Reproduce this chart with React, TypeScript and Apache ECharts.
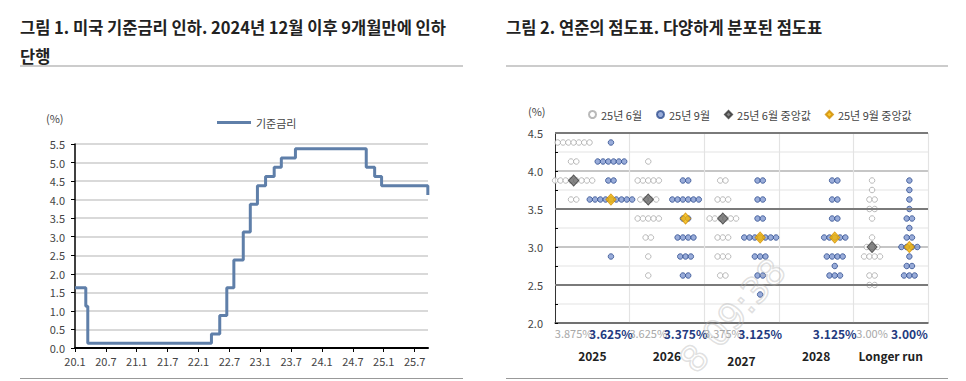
import React, { useEffect, useRef } from 'react';
import * as echarts from 'echarts';

// ---------- Figure 1: US policy rate (midpoint of target range, %) ----------
const fedDates = [
  '2020-01-01', '2020-03-04', '2020-03-16', '2022-03-17', '2022-05-05', '2022-06-16',
  '2022-07-28', '2022-09-22', '2022-11-03', '2022-12-15', '2023-02-02', '2023-03-23',
  '2023-05-04', '2023-07-27', '2024-09-19', '2024-11-08', '2024-12-19', '2025-09-18', '2025-09-19',
];
const fedRates = [
  1.625, 1.125, 0.125, 0.375, 0.875, 1.625,
  2.375, 3.125, 3.875, 4.375, 4.625, 4.875,
  5.125, 5.375, 4.875, 4.625, 4.375, 4.125, 4.125,
];
const monthTicks = [0, 6, 12, 18, 24, 30, 36, 42, 48, 54, 60, 66];

// ---------- Figure 2: FOMC dot plot ----------
const dotYears = ['2025', '2026', '2027', '2028', 'Longer run'];
// [rate, number of participants]
const juneDots: [number, number][][] = [
  [[4.375, 7], [4.125, 2], [3.875, 8], [3.625, 2]],
  [[4.125, 1], [3.875, 5], [3.625, 4], [3.375, 5], [3.125, 2], [2.875, 1], [2.625, 1]],
  [[3.875, 2], [3.625, 3], [3.375, 6], [3.125, 3], [2.875, 3], [2.625, 2]],
  [],
  [[3.875, 1], [3.75, 1], [3.625, 2], [3.5, 2], [3.375, 1], [3.125, 1], [3.0, 3], [2.875, 4], [2.625, 2], [2.5, 2]],
];
const septDots: [number, number][][] = [
  [[4.375, 1], [4.125, 6], [3.875, 2], [3.625, 9], [2.875, 1]],
  [[3.875, 2], [3.625, 6], [3.375, 2], [3.125, 4], [2.875, 3], [2.625, 2]],
  [[3.875, 2], [3.625, 2], [3.375, 2], [3.125, 7], [2.875, 3], [2.625, 2], [2.375, 1]],
  [[3.875, 2], [3.625, 2], [3.375, 2], [3.125, 5], [2.875, 4], [2.75, 1], [2.625, 3]],
  [[3.875, 1], [3.75, 1], [3.625, 1], [3.5, 1], [3.375, 2], [3.25, 1], [3.125, 2], [3.0, 4], [2.875, 1], [2.75, 2], [2.625, 3]],
];
const juneMedians: (number | null)[] = [3.875, 3.625, 3.375, null, 3.0];
const septMedians: (number | null)[] = [3.625, 3.375, 3.125, 3.125, 3.0];
const juneMedianLabels = ['3.875%', '3.625%', '3.375%', '', '3.00%'];
const septMedianLabels = ['3.625%', '3.375%', '3.125%', '3.125%', '3.00%'];
const majorRateLines = [2.5, 3.5, 4.5];

const FONT = "'Noto Sans CJK KR', 'Noto Sans', sans-serif";
const JUNE_POS = 0.25;
const SEPT_POS = 0.75;
const DOT_STEP = 0.071;

function toMonthIndex(s: string): number {
  const [y, m, d] = s.split('-').map(Number);
  const days = new Date(y, m, 0).getDate();
  return (y - 2020) * 12 + (m - 1) + (d - 1) / days;
}

function spreadDots(cols: [number, number][][], pos: number): number[][] {
  const out: number[][] = [];
  cols.forEach((rows, c) => {
    rows.forEach(([v, n]) => {
      for (let i = 0; i < n; i++) out.push([c + pos + (i - (n - 1) / 2) * DOT_STEP, v]);
    });
  });
  return out;
}

function medianPoints(meds: (number | null)[], pos: number): number[][] {
  const out: number[][] = [];
  meds.forEach((v, c) => {
    if (v !== null) out.push([c + pos, v]);
  });
  return out;
}

export default function App() {
  const ref = useRef<HTMLDivElement>(null);

  useEffect(() => {
    if (!ref.current) return;
    const chart = echarts.init(ref.current, undefined, { renderer: 'svg' });
    const fedSeries = fedDates.map((d, i) => [toMonthIndex(d), fedRates[i]]);
    const medianSlots = dotYears.flatMap((y) => [y + '-6', y + '-9']);

    const option: any = {
      animation: false,
      backgroundColor: '#fff',
      textStyle: { fontFamily: FONT },
      legend: [
        {
          data: ['기준금리'],
          left: 212,
          top: 112,
          icon: 'rect',
          itemWidth: 34,
          itemHeight: 3,
          selectedMode: false,
          textStyle: { fontSize: 11, color: '#444', fontFamily: FONT },
        },
        {
          data: ['25년 6월', '25년 9월', '25년 6월 중앙값', '25년 9월 중앙값'],
          left: 583,
          top: 104,
          itemWidth: 7,
          itemHeight: 7,
          itemGap: 14,
          selectedMode: false,
          textStyle: { fontSize: 11, color: '#444', fontFamily: FONT },
        },
      ],
      grid: [
        { left: 75, top: 144, width: 353, height: 204 },
        { left: 555, top: 133, width: 373, height: 190 },
      ],
      xAxis: [
        {
          gridIndex: 0,
          type: 'value',
          min: 0,
          max: 68.6,
          axisLine: { show: true, lineStyle: { color: '#000', width: 2 } },
          axisTick: { show: true, customValues: monthTicks, length: 4, lineStyle: { color: '#000', width: 1 } },
          axisLabel: {
            customValues: monthTicks,
            formatter: (v: number) => `${20 + Math.floor(v / 12)}.${Math.round(v % 12) + 1}`,
            fontSize: 11,
            color: '#444',
            margin: 7,
          },
          splitLine: { show: false },
        },
        {
          gridIndex: 1,
          type: 'value',
          min: 0,
          max: 5,
          interval: 1,
          axisLine: { show: true, onZero: false, lineStyle: { color: '#555', width: 1.5 } },
          axisTick: { show: false },
          axisLabel: { show: false },
          splitLine: { show: true, lineStyle: { color: '#e3e3e3', width: 1.2 } },
        },
        {
          gridIndex: 1,
          type: 'category',
          data: medianSlots,
          position: 'bottom',
          axisLine: { show: false },
          axisTick: { show: false },
          axisLabel: {
            interval: 0,
            margin: 4,
            formatter: (_v: string, i: number) =>
              i % 2 === 0 ? `{j|${juneMedianLabels[i / 2]}}` : `{s|${septMedianLabels[(i - 1) / 2]}}`,
            rich: {
              j: { fontSize: 11, color: '#a8a8a8', fontFamily: FONT },
              s: { fontSize: 12, color: '#233a80', fontWeight: 'bold', fontFamily: FONT },
            },
          },
        },
        {
          gridIndex: 1,
          type: 'category',
          data: dotYears,
          position: 'bottom',
          offset: 21,
          axisLine: { show: false },
          axisTick: { show: false },
          axisLabel: {
            interval: 0,
            margin: 5,
            formatter: (v: string, i: number) => (i === 2 ? `{l|${v}}` : `{n|${v}}`),
            rich: {
              n: { fontSize: 12, color: '#222', fontWeight: 'bold', fontFamily: FONT },
              l: { fontSize: 12, color: '#222', fontWeight: 'bold', fontFamily: FONT, padding: [5, 0, 0, 0] },
            },
          },
        },
      ],
      yAxis: [
        {
          gridIndex: 0,
          type: 'value',
          min: 0,
          max: 5.5,
          interval: 0.5,
          axisLine: { show: true, lineStyle: { color: '#000', width: 1.5 } },
          axisTick: { show: true, length: 4, lineStyle: { color: '#000' } },
          axisLabel: { formatter: (v: number) => v.toFixed(1), fontSize: 11, color: '#444', margin: 10 },
          splitLine: { show: true, lineStyle: { color: '#d9d9d9', width: 2 } },
        },
        {
          gridIndex: 1,
          type: 'value',
          min: 2,
          max: 4.5,
          interval: 0.25,
          axisLine: { show: true, lineStyle: { color: '#333', width: 1 } },
          axisTick: { show: true, inside: true, length: 3, lineStyle: { color: '#000' } },
          axisLabel: {
            formatter: (v: number) => (Math.abs(v * 2 - Math.round(v * 2)) < 1e-6 ? v.toFixed(1) : ''),
            fontSize: 11,
            color: '#444',
            margin: 12,
          },
          splitLine: {
            show: true,
            lineStyle: { color: ['#b3b3b3', '#ededed', '#7d7d7d', '#ededed'], width: 1.5 },
          },
        },
      ],
      series: [
        {
          name: '기준금리',
          type: 'line',
          xAxisIndex: 0,
          yAxisIndex: 0,
          step: 'end',
          data: fedSeries,
          symbol: 'none',
          lineStyle: { color: '#5f7fa9', width: 3 },
          itemStyle: { color: '#5f7fa9' },
        },
        {
          type: 'line',
          xAxisIndex: 1,
          yAxisIndex: 1,
          data: [],
          markLine: {
            silent: true,
            symbol: 'none',
            label: { show: false },
            lineStyle: { color: '#7a7a7a', width: 2, type: 'solid' },
            data: majorRateLines.map((v) => ({ yAxis: v })),
          },
        },
        {
          name: '25년 6월',
          type: 'scatter',
          xAxisIndex: 1,
          yAxisIndex: 1,
          data: spreadDots(juneDots, JUNE_POS),
          symbol: 'circle',
          symbolSize: 5.5,
          itemStyle: { color: '#fff', borderColor: '#a8a8a8', borderWidth: 1 },
          z: 3,
        },
        {
          name: '25년 9월',
          type: 'scatter',
          xAxisIndex: 1,
          yAxisIndex: 1,
          data: spreadDots(septDots, SEPT_POS),
          symbol: 'circle',
          symbolSize: 5.5,
          itemStyle: { color: '#7f97cf', borderColor: '#2f4d8e', borderWidth: 1 },
          z: 4,
        },
        {
          name: '25년 6월 중앙값',
          type: 'scatter',
          xAxisIndex: 1,
          yAxisIndex: 1,
          data: medianPoints(juneMedians, JUNE_POS),
          symbol: 'diamond',
          symbolSize: [10, 11],
          itemStyle: { color: '#686868', borderColor: '#333', borderWidth: 1 },
          z: 5,
        },
        {
          name: '25년 9월 중앙값',
          type: 'scatter',
          xAxisIndex: 1,
          yAxisIndex: 1,
          data: medianPoints(septMedians, SEPT_POS),
          symbol: 'diamond',
          symbolSize: [10, 11],
          itemStyle: { color: '#f7b800', borderColor: '#d08c00', borderWidth: 1 },
          z: 6,
        },
      ],
      graphic: [
        {
          type: 'text',
          left: 20,
          top: 12,
          style: {
            text: '그림 1. 미국 기준금리 인하. 2024년 12월 이후 9개월만에 인하\n단행',
            fontSize: 16.5,
            fontWeight: 'bold',
            fill: '#222',
            lineHeight: 29,
            fontFamily: FONT,
          },
        },
        {
          type: 'text',
          left: 506,
          top: 12,
          style: {
            text: '그림 2. 연준의 점도표. 다양하게 분포된 점도표',
            fontSize: 16.5,
            fontWeight: 'bold',
            fill: '#222',
            lineHeight: 29,
            fontFamily: FONT,
          },
        },
        { type: 'line', shape: { x1: 20, y1: 66, x2: 463, y2: 66 }, style: { stroke: '#cccccc', lineWidth: 2 } },
        { type: 'line', shape: { x1: 506, y1: 66, x2: 948, y2: 66 }, style: { stroke: '#cccccc', lineWidth: 2 } },
        { type: 'line', shape: { x1: 20, y1: 378.5, x2: 463, y2: 378.5 }, style: { stroke: '#999', lineWidth: 1 } },
        { type: 'line', shape: { x1: 506, y1: 378.5, x2: 948, y2: 378.5 }, style: { stroke: '#999', lineWidth: 1 } },
        {
          type: 'text',
          left: 46,
          top: 112,
          style: { text: '(%)', fontSize: 11, fill: '#444', fontFamily: FONT },
        },
        {
          type: 'text',
          left: 528,
          top: 105,
          style: { text: '(%)', fontSize: 11, fill: '#444', fontFamily: FONT },
        },
        {
          type: 'text',
          x: 700,
          y: 379,
          rotation: 0.84,
          z: 100,
          silent: true,
          style: {
            text: '8 09:38',
            fontSize: 36,
            fill: 'rgba(0,0,0,0)',
            stroke: 'rgba(175,175,175,0.4)',
            lineWidth: 1.5,
            fontFamily: 'DejaVu Sans',
            textVerticalAlign: 'bottom',
          },
        },
      ],
    };

    chart.setOption(option);
    return () => chart.dispose();
  }, []);

  return (
    <div
      ref={ref}
      style={{ position: 'fixed', left: 0, top: 0, width: 966, height: 381, background: '#fff' }}
    />
  );
}
